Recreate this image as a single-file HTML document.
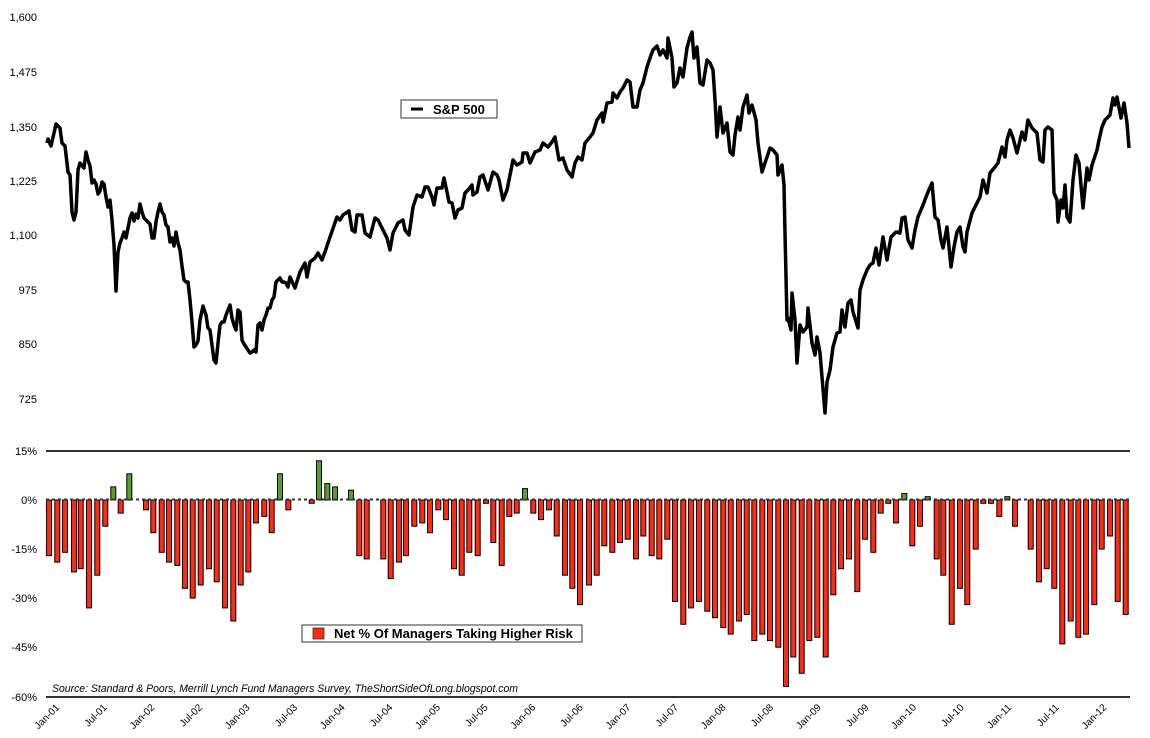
<!DOCTYPE html>
<html><head><meta charset="utf-8"><style>html,body{margin:0;padding:0;background:#fff}svg{display:block}</style></head>
<body>
<svg width="1150" height="738" viewBox="0 0 1150 738" xmlns="http://www.w3.org/2000/svg" font-family="Liberation Sans, DejaVu Sans, sans-serif">
<rect width="1150" height="738" fill="#fff"/>
<g font-size="11" text-anchor="end" fill="#000">
<text x="37" y="21">1,600</text><text x="37" y="76">1,475</text><text x="37" y="131">1,350</text><text x="37" y="185">1,225</text><text x="37" y="239">1,100</text><text x="37" y="294">975</text><text x="37" y="348">850</text><text x="37" y="403">725</text>
<text x="37" y="455">15%</text><text x="37" y="504">0%</text><text x="37" y="553">-15%</text><text x="37" y="602">-30%</text><text x="37" y="651">-45%</text><text x="37" y="701">-60%</text>
</g>
<line x1="46" y1="451" x2="1130" y2="451" stroke="#333" stroke-width="2"/>
<line x1="46" y1="697" x2="1130" y2="697" stroke="#333" stroke-width="2"/>
<polyline fill="none" stroke="#000" stroke-width="3.5" stroke-linejoin="round" points="47,143 48,139 51,146 54,133 56,124 60,128 62,143 65,146 68,172 70,175 72,212 74,220 76,212 78,170 80,163 84,168 86,152 88,160 90,166 92,183 94,180 96,184 98,194 100,191 102,182 104,184 106,197 108,207 110,200 112,220 114,245 116,291 118,252 120,243 122,238 124,232 126,238 128,228 130,218 132,213 134,221 136,214 138,218 140,204 142,212 144,218 146,220 150,224 152,238 154,238 156,222 158,212 160,204 162,212 164,215 166,225 168,227 170,242 172,238 174,246 176,232 178,243 180,250 182,266 184,280 186,282 188,282 190,300 192,322 194,347 196,345 198,341 200,320 203,306 206,315 208,328 210,330 212,345 214,360 216,363 218,343 220,325 222,322 224,322 226,315 228,310 230,305 232,318 234,325 236,330 238,310 240,312 242,340 244,344 246,347 248,350 250,353 252,352 254,350 256,352 258,325 260,323 262,330 264,320 266,315 268,308 270,308 272,300 274,297 276,282 278,280 280,278 282,282 284,282 286,283 288,287 290,277 295,288 300,272 305,263 307,277 310,262 315,258 318,253 322,260 325,252 330,237 337,217 340,220 343,215 349,211 352,230 355,232 357,215 362,215 365,233 370,237 375,218 378,220 383,230 387,238 390,250 393,233 398,223 403,220 405,230 409,235 413,207 417,195 422,197 425,187 428,187 432,197 434,205 437,188 442,188 444,178 447,192 449,202 452,203 455,218 458,210 462,208 465,193 468,190 472,185 473,195 477,192 480,177 483,175 488,190 493,172 497,175 499,180 503,200 507,190 513,160 517,165 522,162 523,153 527,153 530,163 535,152 540,150 543,143 548,147 552,142 555,137 559,160 563,158 567,170 572,177 575,163 578,157 582,160 585,143 590,137 593,133 597,120 602,113 603,122 607,103 612,102 613,93 617,98 620,92 623,88 627,80 630,82 633,107 637,107 640,90 643,83 647,67 650,58 653,50 657,46 660,55 663,50 667,58 668,38 672,58 674,87 677,83 680,68 683,77 687,48 690,37 692,32 694,58 697,47 700,83 703,85 707,60 710,63 713,70 715,100 717,137 720,107 723,133 727,123 730,152 733,155 735,135 738,117 740,130 743,107 747,95 749,113 752,105 756,120 758,143 762,172 765,163 770,148 773,150 777,155 778,175 782,165 784,185 785,233 787,320 788,318 791,330 792,293 795,320 797,363 800,325 803,332 807,327 808,308 812,343 815,355 817,337 820,353 825,413 827,382 830,370 833,347 837,333 840,332 842,310 845,327 848,303 851,300 853,312 858,328 860,290 863,280 867,270 870,265 873,263 876,248 879,265 883,237 887,260 891,237 896,232 900,233 902,218 905,217 908,240 912,248 915,230 918,217 923,205 928,192 932,183 935,217 938,220 941,240 943,248 947,227 951,267 954,247 957,232 960,227 963,247 965,252 967,232 972,213 977,203 980,197 983,180 987,193 990,173 995,167 998,163 1002,147 1005,157 1007,140 1010,130 1013,138 1017,153 1022,132 1025,140 1028,120 1032,128 1037,133 1040,160 1043,162 1045,130 1048,127 1052,130 1054,193 1057,200 1058,222 1061,200 1063,208 1065,185 1067,217 1070,222 1073,180 1076,155 1079,163 1083,208 1087,168 1089,180 1092,165 1097,150 1099,140 1102,127 1105,120 1110,115 1113,98 1115,105 1117,97 1121,118 1124,103 1127,123 1129,148"/>
<rect x="401" y="100" width="96" height="18" fill="#fff" stroke="#333" stroke-width="1"/>
<line x1="411" y1="109" x2="423" y2="109" stroke="#000" stroke-width="3"/>
<text x="433" y="114" font-size="13" font-weight="bold">S&amp;P 500</text>
<g stroke="#000" stroke-width="1" fill="#ff2a14">
<rect x="46.5" y="500" width="5" height="55.6"/>
<rect x="54.8" y="500" width="5" height="62.1"/>
<rect x="62.5" y="500" width="5" height="52.3"/>
<rect x="71.5" y="500" width="5" height="71.9"/>
<rect x="78.2" y="500" width="5" height="68.7"/>
<rect x="86.5" y="500" width="5" height="107.9"/>
<rect x="94.8" y="500" width="5" height="75.2"/>
<rect x="102.8" y="500" width="5" height="26.2"/>
<rect x="118.2" y="500" width="5" height="13.1"/>
<rect x="143.5" y="500" width="5" height="9.8"/>
<rect x="150.8" y="500" width="5" height="32.7"/>
<rect x="159.2" y="500" width="5" height="52.3"/>
<rect x="166.5" y="500" width="5" height="62.1"/>
<rect x="174.8" y="500" width="5" height="65.4"/>
<rect x="182.5" y="500" width="5" height="88.3"/>
<rect x="190.2" y="500" width="5" height="98.1"/>
<rect x="198.2" y="500" width="5" height="85.0"/>
<rect x="206.5" y="500" width="5" height="68.7"/>
<rect x="214.2" y="500" width="5" height="81.8"/>
<rect x="222.5" y="500" width="5" height="107.9"/>
<rect x="230.8" y="500" width="5" height="121.0"/>
<rect x="238.2" y="500" width="5" height="85.0"/>
<rect x="245.8" y="500" width="5" height="71.9"/>
<rect x="253.5" y="500" width="5" height="22.9"/>
<rect x="261.8" y="500" width="5" height="16.4"/>
<rect x="269.2" y="500" width="5" height="32.7"/>
<rect x="285.8" y="500" width="5" height="9.8"/>
<rect x="309.2" y="500" width="5" height="3.3"/>
<rect x="356.8" y="500" width="5" height="55.6"/>
<rect x="364.2" y="500" width="5" height="58.9"/>
<rect x="380.8" y="500" width="5" height="58.9"/>
<rect x="388.2" y="500" width="5" height="78.5"/>
<rect x="396.5" y="500" width="5" height="62.1"/>
<rect x="403.5" y="500" width="5" height="55.6"/>
<rect x="411.8" y="500" width="5" height="26.2"/>
<rect x="419.8" y="500" width="5" height="22.9"/>
<rect x="427.5" y="500" width="5" height="32.7"/>
<rect x="435.8" y="500" width="5" height="9.8"/>
<rect x="443.5" y="500" width="5" height="19.6"/>
<rect x="451.5" y="500" width="5" height="68.7"/>
<rect x="459.2" y="500" width="5" height="75.2"/>
<rect x="466.8" y="500" width="5" height="52.3"/>
<rect x="475.2" y="500" width="5" height="55.6"/>
<rect x="483.5" y="500" width="5" height="3.3"/>
<rect x="490.8" y="500" width="5" height="42.5"/>
<rect x="499.2" y="500" width="5" height="65.4"/>
<rect x="506.8" y="500" width="5" height="16.4"/>
<rect x="514.2" y="500" width="5" height="13.1"/>
<rect x="530.8" y="500" width="5" height="13.1"/>
<rect x="538.5" y="500" width="5" height="19.6"/>
<rect x="546.5" y="500" width="5" height="9.8"/>
<rect x="554.2" y="500" width="5" height="36.0"/>
<rect x="562.5" y="500" width="5" height="75.2"/>
<rect x="569.8" y="500" width="5" height="88.3"/>
<rect x="577.5" y="500" width="5" height="104.6"/>
<rect x="586.5" y="500" width="5" height="85.0"/>
<rect x="594.2" y="500" width="5" height="75.2"/>
<rect x="601.8" y="500" width="5" height="45.8"/>
<rect x="609.8" y="500" width="5" height="52.3"/>
<rect x="617.5" y="500" width="5" height="42.5"/>
<rect x="625.2" y="500" width="5" height="39.2"/>
<rect x="633.5" y="500" width="5" height="58.9"/>
<rect x="640.8" y="500" width="5" height="36.0"/>
<rect x="649.2" y="500" width="5" height="55.6"/>
<rect x="656.8" y="500" width="5" height="58.9"/>
<rect x="664.8" y="500" width="5" height="39.2"/>
<rect x="672.5" y="500" width="5" height="101.4"/>
<rect x="680.8" y="500" width="5" height="124.3"/>
<rect x="688.5" y="500" width="5" height="107.9"/>
<rect x="696.5" y="500" width="5" height="101.4"/>
<rect x="704.8" y="500" width="5" height="111.2"/>
<rect x="712.5" y="500" width="5" height="117.7"/>
<rect x="720.8" y="500" width="5" height="127.5"/>
<rect x="728.2" y="500" width="5" height="134.1"/>
<rect x="736.5" y="500" width="5" height="121.0"/>
<rect x="744.2" y="500" width="5" height="114.5"/>
<rect x="751.8" y="500" width="5" height="140.6"/>
<rect x="759.8" y="500" width="5" height="134.1"/>
<rect x="767.5" y="500" width="5" height="140.6"/>
<rect x="775.8" y="500" width="5" height="147.2"/>
<rect x="783.5" y="500" width="5" height="186.4"/>
<rect x="790.8" y="500" width="5" height="157.0"/>
<rect x="799.2" y="500" width="5" height="173.3"/>
<rect x="806.8" y="500" width="5" height="140.6"/>
<rect x="814.8" y="500" width="5" height="137.3"/>
<rect x="823.2" y="500" width="5" height="157.0"/>
<rect x="830.8" y="500" width="5" height="94.8"/>
<rect x="838.5" y="500" width="5" height="68.7"/>
<rect x="846.5" y="500" width="5" height="58.9"/>
<rect x="854.8" y="500" width="5" height="91.6"/>
<rect x="862.5" y="500" width="5" height="39.2"/>
<rect x="870.8" y="500" width="5" height="52.3"/>
<rect x="878.2" y="500" width="5" height="13.1"/>
<rect x="885.8" y="500" width="5" height="3.3"/>
<rect x="893.5" y="500" width="5" height="22.9"/>
<rect x="909.8" y="500" width="5" height="45.8"/>
<rect x="917.5" y="500" width="5" height="26.2"/>
<rect x="934.2" y="500" width="5" height="58.9"/>
<rect x="940.8" y="500" width="5" height="75.2"/>
<rect x="949.2" y="500" width="5" height="124.3"/>
<rect x="957.5" y="500" width="5" height="88.3"/>
<rect x="964.8" y="500" width="5" height="104.6"/>
<rect x="973.2" y="500" width="5" height="49.1"/>
<rect x="980.8" y="500" width="5" height="3.3"/>
<rect x="988.5" y="500" width="5" height="3.3"/>
<rect x="996.8" y="500" width="5" height="16.4"/>
<rect x="1012.5" y="500" width="5" height="26.2"/>
<rect x="1028.2" y="500" width="5" height="49.1"/>
<rect x="1036.5" y="500" width="5" height="81.8"/>
<rect x="1044.2" y="500" width="5" height="68.7"/>
<rect x="1051.8" y="500" width="5" height="88.3"/>
<rect x="1059.8" y="500" width="5" height="143.9"/>
<rect x="1068.2" y="500" width="5" height="121.0"/>
<rect x="1075.8" y="500" width="5" height="137.3"/>
<rect x="1083.5" y="500" width="5" height="134.1"/>
<rect x="1091.8" y="500" width="5" height="104.6"/>
<rect x="1099.2" y="500" width="5" height="49.1"/>
<rect x="1107.5" y="500" width="5" height="36.0"/>
<rect x="1115.2" y="500" width="5" height="101.4"/>
<rect x="1123.2" y="500" width="5" height="114.5"/>
</g>
<g stroke="#000" stroke-width="1" fill="#5a9e2a">
<rect x="110.8" y="486.9" width="5" height="13.1"/>
<rect x="126.8" y="473.8" width="5" height="26.2"/>
<rect x="277.5" y="473.8" width="5" height="26.2"/>
<rect x="316.5" y="460.8" width="5" height="39.2"/>
<rect x="324.8" y="483.6" width="5" height="16.4"/>
<rect x="332.5" y="486.9" width="5" height="13.1"/>
<rect x="348.5" y="490.2" width="5" height="9.8"/>
<rect x="522.5" y="488.6" width="5" height="11.4"/>
<rect x="901.8" y="493.5" width="5" height="6.5"/>
<rect x="925.2" y="496.7" width="5" height="3.3"/>
<rect x="1004.8" y="496.7" width="5" height="3.3"/>
</g>
<line x1="46" y1="499.5" x2="1130" y2="499.5" stroke="#333" stroke-width="2" stroke-dasharray="3,3"/>
<rect x="302" y="625" width="280" height="17" fill="#fff" stroke="#333" stroke-width="1"/>
<rect x="313" y="628" width="11" height="11" fill="#ff2a14" stroke="#333" stroke-width="0.8"/>
<text x="334" y="638" font-size="13" font-weight="bold">Net % Of Managers Taking Higher Risk</text>
<text x="52" y="692" font-size="11" font-style="italic" textLength="466" lengthAdjust="spacingAndGlyphs">Source: Standard &amp; Poors, Merrill Lynch Fund Managers Survey, TheShortSideOfLong.blogspot.com</text>
<g font-size="10" text-anchor="end">
<text transform="translate(60,708) rotate(-45)">Jan-01</text>
<text transform="translate(107.6,708) rotate(-45)">Jul-01</text>
<text transform="translate(155.2,708) rotate(-45)">Jan-02</text>
<text transform="translate(202.8,708) rotate(-45)">Jul-02</text>
<text transform="translate(250.4,708) rotate(-45)">Jan-03</text>
<text transform="translate(298,708) rotate(-45)">Jul-03</text>
<text transform="translate(345.6,708) rotate(-45)">Jan-04</text>
<text transform="translate(393.2,708) rotate(-45)">Jul-04</text>
<text transform="translate(440.8,708) rotate(-45)">Jan-05</text>
<text transform="translate(488.4,708) rotate(-45)">Jul-05</text>
<text transform="translate(536,708) rotate(-45)">Jan-06</text>
<text transform="translate(583.6,708) rotate(-45)">Jul-06</text>
<text transform="translate(631.2,708) rotate(-45)">Jan-07</text>
<text transform="translate(678.8,708) rotate(-45)">Jul-07</text>
<text transform="translate(726.4,708) rotate(-45)">Jan-08</text>
<text transform="translate(774,708) rotate(-45)">Jul-08</text>
<text transform="translate(821.6,708) rotate(-45)">Jan-09</text>
<text transform="translate(869.2,708) rotate(-45)">Jul-09</text>
<text transform="translate(916.8,708) rotate(-45)">Jan-10</text>
<text transform="translate(964.4,708) rotate(-45)">Jul-10</text>
<text transform="translate(1012,708) rotate(-45)">Jan-11</text>
<text transform="translate(1059.6,708) rotate(-45)">Jul-11</text>
<text transform="translate(1107.2,708) rotate(-45)">Jan-12</text>
</g>
</svg>
</body></html>
